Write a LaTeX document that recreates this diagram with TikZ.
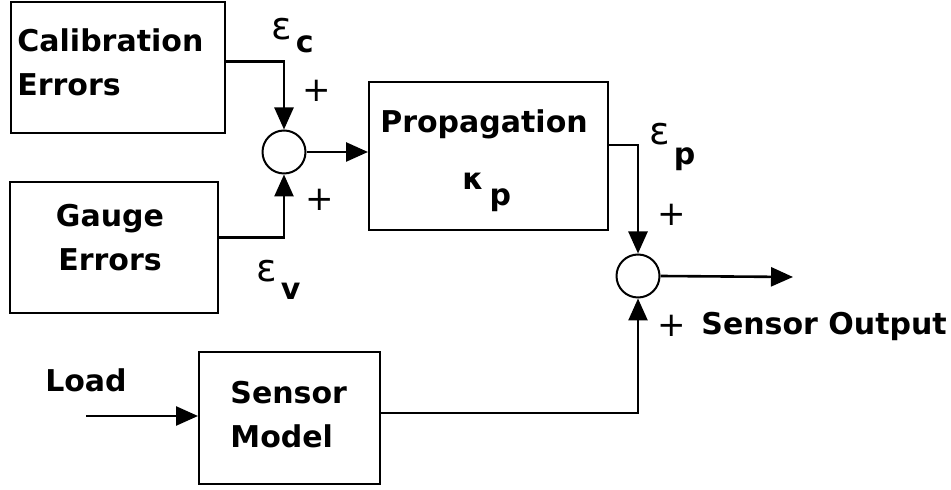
\documentclass[tikz,border=0pt]{standalone}
\usepackage{fontspec}
\setmainfont{DejaVu Sans}
\usepackage{tikz}
\usetikzlibrary{arrows.meta}
\tikzstyle{blockbox} = [rectangle, draw=black, line width=1pt, inner sep=0pt]
\tikzstyle{sumnode} = [circle, draw=black, line width=1pt, minimum size=21.5pt, inner sep=0pt]
\tikzstyle{arrow} = [line width=1.3pt, -{Triangle[length=11pt,width=9.5pt]}]
\tikzstyle{lbl} = [inner sep=0pt]
\tikzstyle{plus} = [inner sep=0pt, font=\fontsize{17}{17}\selectfont\mdseries]
\newcommand{\epsbig}{{\fontsize{19}{19}\selectfont\mdseries ε}}

\begin{document}
\begin{tikzpicture}[x=0.5pt, y=-0.5pt, font=\fontsize{15}{22}\selectfont\bfseries]
    \useasboundingbox (0,0) rectangle (951,490);

    % blocks
    \node (cal) [blockbox, minimum width=107pt, minimum height=65.5pt] at (118,67.5) {};
    \node (gauge) [blockbox, minimum width=104pt, minimum height=65.5pt] at (114,247.5) {};
    \node (prop) [blockbox, minimum width=119.5pt, minimum height=74pt] at (488.5,156) {};
    \node (sensor) [blockbox, minimum width=90.5pt, minimum height=66pt] at (289.5,418) {};
    \node (sum1) [sumnode] at (284,152) {};
    \node (sum2) [sumnode] at (638,276) {};

    % block texts
    \node (caltext) [lbl, align=left, anchor=west] at (17,62) {Calibration\\Errors};
    \node (gaugetext) [lbl, align=center] at (110,238) {Gauge\\Errors};
    \node (proptext) [lbl] at (484,124) {Propagation};
    \node (kp) [lbl, anchor=base west] at (462,190) {κ\hspace{3pt}\raisebox{-8pt}{p}};
    \node (sensortext) [lbl, align=left, anchor=west] at (230,415) {Sensor\\Model};

    % signal labels
    \node (epsc) [lbl, anchor=base west] at (271,40) {\epsbig\hspace{2pt}\raisebox{-6.5pt}{c}};
    \node (epsv) [lbl, anchor=base west] at (256,282) {\epsbig\hspace{2pt}\raisebox{-9pt}{v}};
    \node (epsp) [lbl, anchor=base west] at (649,145) {\epsbig\hspace{2pt}\raisebox{-10pt}{p}};
    \node (plusc) [plus] at (317,91) {+};
    \node (plusv) [plus] at (320,200) {+};
    \node (plusp) [plus] at (672,215) {+};
    \node (pluss) [plus] at (672,326) {+};
    \node (outlbl) [lbl, anchor=west] at (701,326) {Sensor Output};
    \node (load) [lbl] at (86,380) {Load};

    % connectors
    \coordinate (loadin) at (86,416);
    \coordinate (out) at (793,277);
    \draw [arrow] ([yshift=3pt]cal.east) -| (sum1.north);
    \draw [arrow] ([yshift=5pt]gauge.east) -| (sum1.south);
    \draw [arrow] (sum1.east) -- (sum1.east -| prop.west);
    \draw [arrow] ([yshift=5.5pt]prop.east) -| (sum2.north);
    \draw [arrow] (sum2.east) -- (out);
    \draw [arrow] ([yshift=2.5pt]sensor.east) -| (sum2.south);
    \draw [arrow] (loadin) -- (loadin -| sensor.west);
  \end{tikzpicture}
\end{document}
